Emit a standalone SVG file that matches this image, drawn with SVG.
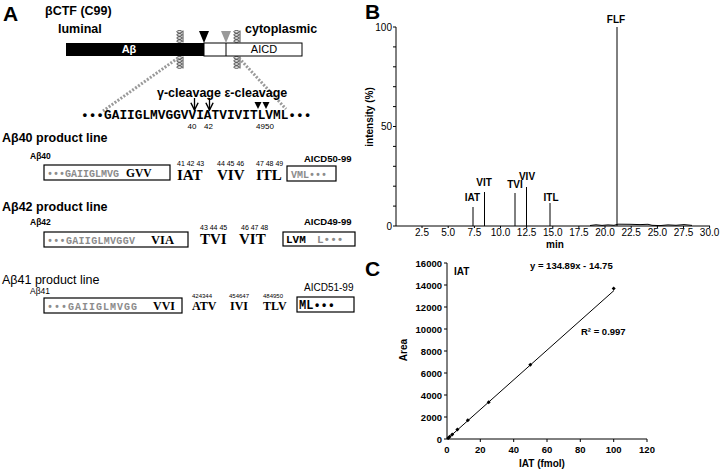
<svg xmlns="http://www.w3.org/2000/svg" width="720" height="470" viewBox="0 0 720 470">
<style>
text{font-family:"Liberation Sans",Arial,sans-serif;fill:#000}
.b{font-weight:bold}
.pl{font-size:21px;font-weight:bold}
.lab{font-size:12.5px;font-weight:bold}
.seq{font-family:"Liberation Mono","Courier New",monospace;font-weight:bold}
.gr{fill:#8c8c8c}
.res{font-family:"Liberation Serif","Times New Roman",serif;font-weight:bold}
.box{fill:none;stroke:#000;stroke-width:1.2}
.ax{stroke:#000;stroke-width:1;fill:none}
.tk{font-size:10px}
.tkb{font-size:9.5px;font-weight:bold}
.dotl{stroke:#9a9a9a;stroke-width:3;stroke-dasharray:2 1.6;fill:none}
.pk{stroke:#000;stroke-width:1;fill:none}
</style>
<defs>
<symbol id="lip" viewBox="0 0 8 13" width="8" height="13">
<g fill="none" stroke="#000" stroke-width="0.7">
<ellipse cx="3.5" cy="1.8" rx="2.7" ry="1.2"/>
<ellipse cx="3.5" cy="4.9" rx="2.7" ry="1.2"/>
<ellipse cx="3.5" cy="8" rx="2.7" ry="1.2"/>
<ellipse cx="3.5" cy="11.1" rx="2.7" ry="1.2"/>
<line x1="7" y1="0.5" x2="7" y2="12.5"/>
</g>
</symbol>
<marker id="ah" viewBox="0 0 10 10" refX="9" refY="5" markerWidth="7" markerHeight="7" orient="auto">
<path d="M1,1 L9,5 L1,9" fill="none" stroke="#000" stroke-width="1.6"/>
</marker>
</defs>

<!-- Panel A -->
<g id="panelA">
<text x="3" y="21" class="pl">A</text>
<text x="45" y="15" class="lab">βCTF (C99)</text>
<text x="58" y="33" class="lab">luminal</text>
<text x="245" y="33" class="lab">cytoplasmic</text>
</g>

<g id="ctf">
<rect x="66" y="43" width="138" height="13" fill="#000"/>
<text x="129" y="53" text-anchor="middle" class="b" style="font-size:11px;fill:#fff">Aβ</text>
<rect x="204" y="43" width="98" height="13" fill="#fff" stroke="#000" stroke-width="1"/>
<line x1="226" y1="43" x2="226" y2="56" stroke="#000" stroke-width="1"/>
<text x="264" y="53" text-anchor="middle" style="font-size:11px">AICD</text>
<polygon points="199,31 209,31 204,43" fill="#000"/>
<polygon points="221,31 231,31 226,43" fill="#999"/>
<use href="#lip" x="176" y="30"/>
<use href="#lip" x="176" y="56"/>
<use href="#lip" x="233" y="30"/>
<use href="#lip" x="233" y="56"/>
</g>

<g id="connectors">
<line class="dotl" x1="178" y1="58" x2="103" y2="111"/>
<line class="dotl" x1="239" y1="58" x2="286" y2="109"/>
<line x1="194.5" y1="98" x2="194.5" y2="110" stroke="#000" stroke-width="1.3" marker-end="url(#ah)"/>
<line x1="209.5" y1="98" x2="209.5" y2="110" stroke="#000" stroke-width="1.3" marker-end="url(#ah)"/>
</g>

<g id="cleavage">
<text x="157" y="97" class="b" style="font-size:12.5px">γ-cleavage ε-cleavage</text>
<polygon points="254.5,102 261.5,102 258,109" fill="#000"/>
<polygon points="262.5,102 269.5,102 266,109" fill="#000"/>
<text x="81" y="119" class="seq" style="font-size:12.8px">•••GAIIGLMVGGVVIATVIVITLVML•••</text>
<text x="192" y="129" text-anchor="middle" style="font-size:8px">40</text>
<text x="208.5" y="129" text-anchor="middle" style="font-size:8px">42</text>
<text x="265" y="129" text-anchor="middle" style="font-size:8px">4950</text>
</g>

<!-- Abeta40 line -->
<g id="ab40">
<text x="2" y="142" class="lab">Aβ40 product line</text>
<text x="30" y="159" class="b" style="font-size:8.5px">Aβ40</text>
<rect class="box" x="44" y="165" width="126" height="15"/>
<text x="47" y="176.5" class="seq gr" style="font-size:10px" textLength="72" lengthAdjust="spacing">•••GAIIGLMVG</text>
<text x="126" y="177" class="res" style="font-size:11.5px">GVV</text>
<text x="177" y="166" style="font-size:7px">41 42 43</text>
<text x="217" y="166" style="font-size:7px">44 45 46</text>
<text x="256" y="166" style="font-size:7px">47 48 49</text>
<text x="177" y="180" class="res" style="font-size:15px">IAT</text>
<text x="217" y="180" class="res" style="font-size:15px">VIV</text>
<text x="256" y="180" class="res" style="font-size:15px">ITL</text>
<text x="304" y="162" class="b" style="font-size:9.5px">AICD50-99</text>
<rect class="box" x="287" y="166" width="49" height="15"/>
<text x="291" y="177.5" class="seq gr" style="font-size:10px">VML•••</text>
</g>

<!-- Abeta42 line -->
<g id="ab42">
<text x="2" y="211" class="lab">Aβ42 product line</text>
<text x="30" y="225" class="b" style="font-size:8.5px">Aβ42</text>
<rect class="box" x="44" y="232" width="144" height="15"/>
<text x="47" y="243.5" class="seq gr" style="font-size:10px" textLength="88" lengthAdjust="spacing">•••GAIIGLMVGGV</text>
<text x="151" y="244" class="res" style="font-size:12.5px">VIA</text>
<text x="200" y="230" style="font-size:7px">43 44 45</text>
<text x="241" y="230" style="font-size:7px">46 47 48</text>
<text x="200" y="244" class="res" style="font-size:15px">TVI</text>
<text x="239" y="244" class="res" style="font-size:15px">VIT</text>
<text x="304" y="225" class="b" style="font-size:9.5px">AICD49-99</text>
<rect class="box" x="283" y="232" width="72" height="14"/>
<text x="286" y="243" class="seq" style="font-size:11px">LVM</text>
<text x="317" y="243" class="seq gr" style="font-size:11px">L•••</text>
</g>

<!-- Abeta41 line -->
<g id="ab41">
<text x="2" y="284" style="font-size:12.5px">Aβ41 product line</text>
<text x="30" y="294" style="font-size:8.5px">Aβ41</text>
<rect class="box" x="44" y="298" width="138" height="15"/>
<text x="47" y="309.5" class="seq gr" style="font-size:10px" textLength="90" lengthAdjust="spacing">•••GAIIGLMVGG</text>
<text x="153" y="310" class="res" style="font-size:12px">VVI</text>
<text x="192" y="298" style="font-size:6px">424344</text>
<text x="229" y="298" style="font-size:6px">454647</text>
<text x="263" y="298" style="font-size:6px">484950</text>
<text x="192" y="310" class="res" style="font-size:12px">ATV</text>
<text x="230" y="310" class="res" style="font-size:12px">IVI</text>
<text x="263" y="310" class="res" style="font-size:12px">TLV</text>
<text x="304" y="291" style="font-size:10px">AICD51-99</text>
<rect class="box" x="297" y="297" width="57" height="15"/>
<text x="299" y="309" class="seq" style="font-size:12px">ML•••</text>
</g>

<!-- Panel B -->
<g id="panelB">
<text x="365" y="19" class="pl">B</text>
<path class="ax" d="M396,27 V226 M393,27 H396 M393,46.9 H396 M393,66.8 H396 M393,86.7 H396 M393,106.6 H396 M393,126.5 H396 M393,146.4 H396 M393,166.3 H396 M393,186.2 H396 M393,206.1 H396 M393,226 H396"/>
<text x="392" y="30.5" text-anchor="end" class="tk">100</text>
<text x="392" y="130" text-anchor="end" class="tk">50</text>
<text x="392" y="229.5" text-anchor="end" class="tk">0</text>
<text transform="translate(373,117) rotate(-90)" text-anchor="middle" class="b" style="font-size:10px">intensity  (%)</text>
<path class="ax" stroke-width="0.9" d="M396,226 H710 M422,226 v2 M448.2,226 v2 M474.4,226 v2 M500.5,226 v2 M526.6,226 v2 M552.8,226 v2 M578.9,226 v2 M605,226 v2 M631.2,226 v2 M657.4,226 v2 M683.5,226 v2 M709.6,226 v2"/>
<g class="tk" text-anchor="middle">
<text x="422" y="236">2.5</text><text x="448.2" y="236">5.0</text><text x="474.4" y="236">7.5</text>
<text x="500.5" y="236">10.0</text><text x="526.6" y="236">12.5</text><text x="552.8" y="236">15.0</text>
<text x="578.9" y="236">17.5</text><text x="605" y="236">20.0</text><text x="631.2" y="236">22.5</text>
<text x="657.4" y="236">25.0</text><text x="683.5" y="236">27.5</text><text x="709.6" y="236">30.0</text>
</g>
<text x="555" y="248" text-anchor="middle" class="b" style="font-size:10px">min</text>
</g>

<g id="chromatogram">
<polyline class="pk" stroke-width="0.8" points="590,225.5 596,224.8 602,225.4 608,224.9 614,225.3 618,224.2 630,224.3 640,224.6 648,224.3 652,225.3 660,225.6 668,224.9 676,225.3 684,224.6 692,225.4"/>
<line class="pk" x1="473" y1="226" x2="473" y2="207"/>
<line class="pk" x1="484.5" y1="226" x2="484.5" y2="192"/>
<line class="pk" x1="515" y1="226" x2="515" y2="193"/>
<line class="pk" x1="526.5" y1="226" x2="526.5" y2="187"/>
<line class="pk" x1="550" y1="226" x2="550" y2="203"/>
<line class="pk" stroke-width="1.8" x1="617" y1="226" x2="617" y2="27"/>
<g class="b" style="font-size:10px" text-anchor="middle">
<text x="472.5" y="201">IAT</text>
<text x="484" y="186">VIT</text>
<text x="515" y="188">TVI</text>
<text x="527" y="180">VIV</text>
<text x="551" y="201">ITL</text>
<text x="616" y="23">FLF</text>
</g>
</g>

<!-- Panel C -->
<g id="panelC">
<text x="365" y="276" class="pl">C</text>
<path class="ax" d="M447,263 V439 H647 M444,263 H447 M444,285 H447 M444,307 H447 M444,329 H447 M444,351 H447 M444,373 H447 M444,395 H447 M444,417 H447 M444,439 H447 M480.3,439 v3 M513.7,439 v3 M547,439 v3 M580.3,439 v3 M613.7,439 v3 M647,439 v3"/>
<g class="tkb" text-anchor="end">
<text x="442" y="266.5">16000</text><text x="442" y="288.5">14000</text><text x="442" y="310.5">12000</text>
<text x="442" y="332.5">10000</text><text x="442" y="354.5">8000</text><text x="442" y="376.5">6000</text>
<text x="442" y="398.5">4000</text><text x="442" y="420.5">2000</text><text x="442" y="442.5">0</text>
</g>
<g class="tkb" text-anchor="middle">
<text x="447" y="453">0</text><text x="480.3" y="453">20</text><text x="513.7" y="453">40</text>
<text x="547" y="453">60</text><text x="580.3" y="453">80</text><text x="613.7" y="453">100</text><text x="647" y="453">120</text>
</g>
<text x="542" y="467" text-anchor="middle" class="b" style="font-size:10px">IAT (fmol)</text>
<text transform="translate(407,350) rotate(-90)" text-anchor="middle" class="b" style="font-size:10px">Area</text>
<text x="454" y="275" class="b" style="font-size:10px">IAT</text>
<text x="530" y="269" class="b" style="font-size:9.5px">y = 134.89x - 14.75</text>
<text x="581" y="335" class="b" style="font-size:9.5px">R² = 0.997</text>
</g>

<g id="calibration">
<line x1="447" y1="439.2" x2="614" y2="290.5" stroke="#000" stroke-width="1"/>
<g fill="#000">
<path d="M448.3,435.9 l2,2 l-2,2 l-2,-2z"/>
<path d="M449.6,434.8 l2,2 l-2,2 l-2,-2z"/>
<path d="M452.2,432.4 l2,2 l-2,2 l-2,-2z"/>
<path d="M457.4,427.6 l2,2 l-2,2 l-2,-2z"/>
<path d="M467.8,418.3 l2,2 l-2,2 l-2,-2z"/>
<path d="M488.7,400.2 l2,2 l-2,2 l-2,-2z"/>
<path d="M530.3,362.8 l2,2 l-2,2 l-2,-2z"/>
<path d="M613.7,286.4 l2,2 l-2,2 l-2,-2z"/>
</g>
</g>
</svg>
